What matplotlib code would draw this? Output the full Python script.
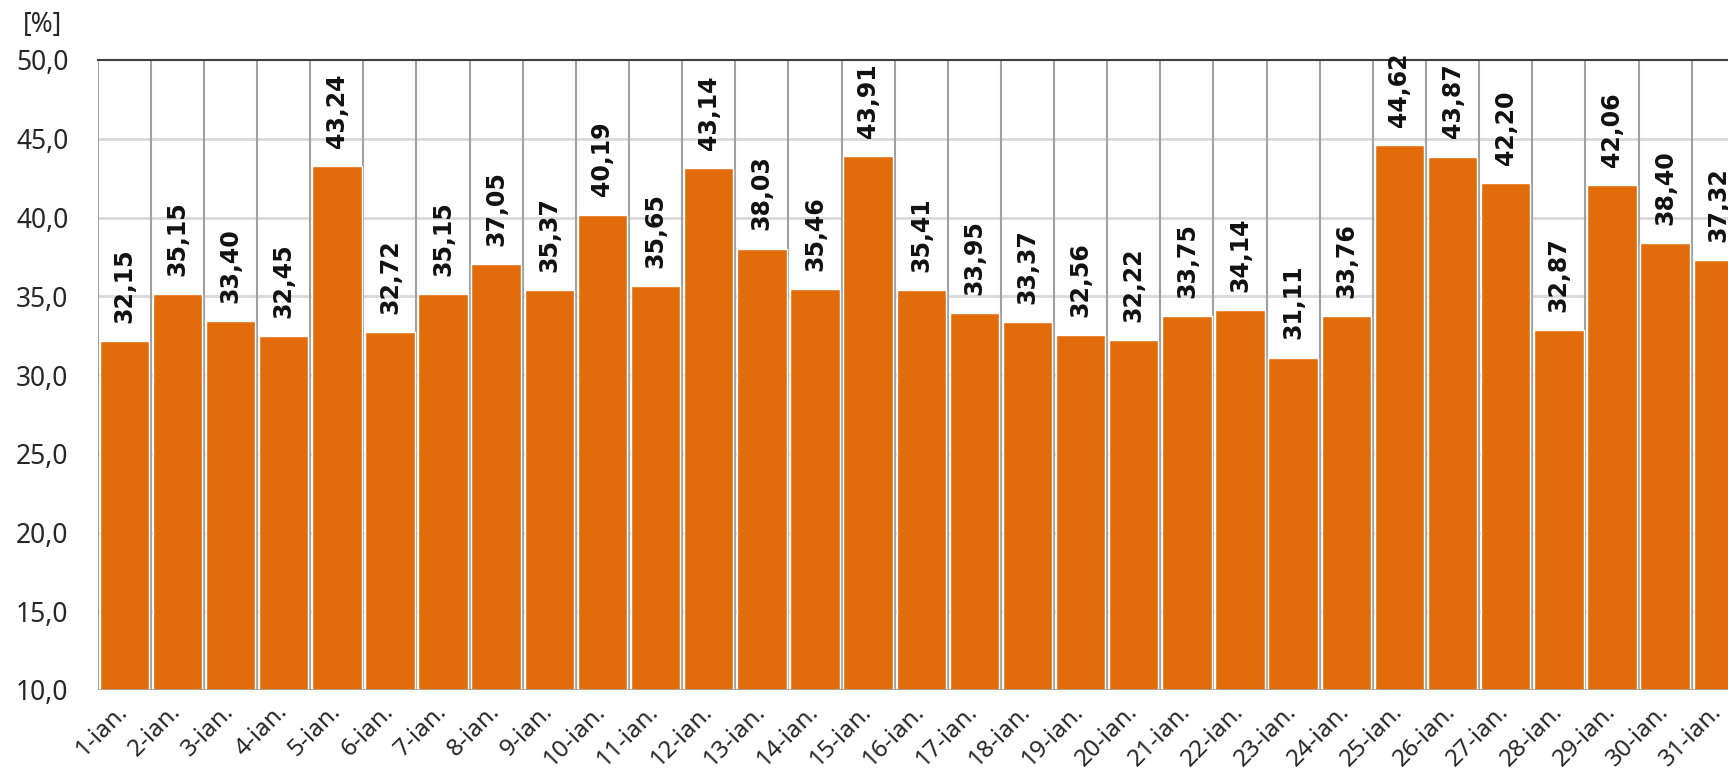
import matplotlib
matplotlib.use("Agg")
import matplotlib.pyplot as plt
import numpy as np

categories = [f"{d}-ian." for d in range(1, 32)]
values = [32.15, 35.15, 33.40, 32.45, 43.24, 32.72, 35.15, 37.05, 35.37, 40.19,
          35.65, 43.14, 38.03, 35.46, 43.91, 35.41, 33.95, 33.37, 32.56, 32.22,
          33.75, 34.14, 31.11, 33.76, 44.62, 43.87, 42.20, 32.87, 42.06, 38.40, 37.32]
yticks = [10, 15, 20, 25, 30, 35, 40, 45, 50]
ytick_labels = ["10,0", "15,0", "20,0", "25,0", "30,0", "35,0", "40,0", "45,0", "50,0"]

fig = plt.figure(figsize=(17.28, 7.73), dpi=100)
ax = fig.add_axes([97.7 / 1728, 83 / 773, 1647.1 / 1728, 630 / 773])

x = np.arange(len(categories))
ax.bar(x, values, width=0.93, color="#E36C0A", edgecolor="white", linewidth=1.0,
       zorder=3)

ax.set_xlim(-0.5, len(categories) - 0.5)
ax.set_ylim(10, 50)

# horizontal gridlines
for yv in yticks[1:-1]:
    ax.axhline(yv, color="#D9D9D9", lw=2, zorder=1)
# vertical separators
for b in np.arange(-0.5, len(categories) + 0.5, 1.0):
    ax.axvline(b, color="#A0A0A0", lw=1.5, zorder=2)

for s in ["left", "right", "bottom"]:
    ax.spines[s].set_visible(False)
ax.spines["top"].set_color("#404040")
ax.spines["top"].set_linewidth(1.5)
ax.axhline(10, color="#A6A6A6", lw=2, zorder=4)

ax.set_yticks(yticks)
ax.set_yticklabels(ytick_labels, fontsize=19, family="Noto Sans", color="#262626")
ax.tick_params(axis="y", length=0, pad=21)
ax.set_xticks(x)
ax.set_xticklabels(categories, rotation=45, ha="right", va="center",
                   rotation_mode="anchor", fontsize=17.5, family="Noto Sans",
                   color="#262626")
ax.tick_params(axis="x", length=0, pad=13)

for xi, v in zip(x, values):
    ax.annotate(f"{v:.2f}".replace(".", ","), (xi, v), xytext=(0, 13),
                textcoords="offset points", rotation=90, ha="center", va="bottom",
                fontsize=17, fontweight="bold", family="DejaVu Sans", color="#111111",
                zorder=5, annotation_clip=False)

fig.text(23 / 1728, 1 - 25 / 773, "[%]", fontsize=19, family="Noto Sans",
         color="#262626", va="center", ha="left")

fig.savefig("out.png", dpi=100)
